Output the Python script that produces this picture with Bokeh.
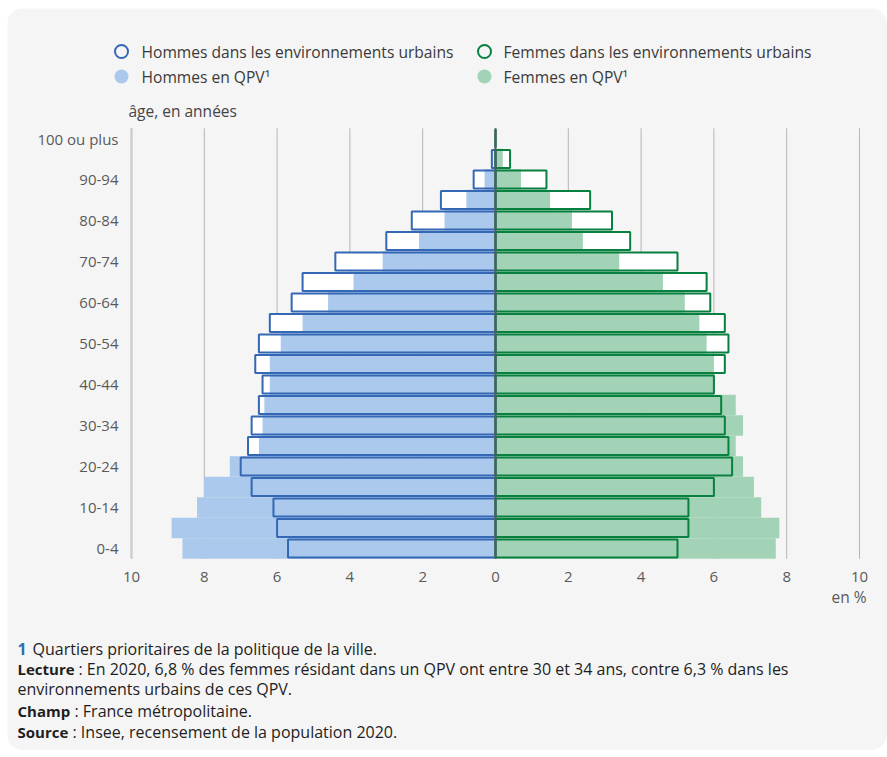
from bokeh.plotting import figure
from bokeh.models import ColumnDataSource, Range1d
from bokeh.core.properties import value
from bokeh.embed import file_html
from bokeh.resources import INLINE

# ---------------- data ----------------
ages = ["0-4", "5-9", "10-14", "15-19", "20-24", "25-29", "30-34", "35-39", "40-44",
        "45-49", "50-54", "55-59", "60-64", "65-69", "70-74", "75-79", "80-84",
        "85-89", "90-94", "95-99", "100 ou plus"]
hommes_qpv = [8.6, 8.9, 8.2, 8.0, 7.3, 6.5, 6.4, 6.35, 6.2, 6.2, 5.9, 5.3, 4.6, 3.9,
              3.1, 2.1, 1.4, 0.8, 0.3, 0.05, 0.0]
hommes_urb = [5.7, 6.0, 6.1, 6.7, 7.0, 6.8, 6.7, 6.5, 6.4, 6.6, 6.5, 6.2, 5.6, 5.3,
              4.4, 3.0, 2.3, 1.5, 0.6, 0.1, 0.0]
femmes_qpv = [7.7, 7.8, 7.3, 7.1, 6.8, 6.6, 6.8, 6.6, 6.0, 6.0, 5.8, 5.6, 5.2, 4.6,
              3.4, 2.4, 2.1, 1.5, 0.7, 0.2, 0.0]
femmes_urb = [5.0, 5.3, 5.3, 6.0, 6.5, 6.4, 6.3, 6.2, 6.0, 6.3, 6.4, 6.3, 5.9, 5.8,
              5.0, 3.7, 3.2, 2.6, 1.4, 0.4, 0.0]
x_ticks = [-10, -8, -6, -4, -2, 0, 2, 4, 6, 8, 10]
x_tick_labels = ["10", "8", "6", "4", "2", "0", "2", "4", "6", "8", "10"]
y_label_rows = [0, 2, 4, 6, 8, 10, 12, 14, 16, 18, 20]

legend_labels = ["Hommes dans les environnements urbains", "Hommes en QPV¹",
                 "Femmes dans les environnements urbains", "Femmes en QPV¹"]

# ---------------- styles / layout ----------------
BLUE = "#3467b4"
BLUE_FILL = "#aac9ec"
GREEN = "#08803f"
GREEN_FILL = "#a3d3b6"
BG = "#f5f5f5"
FONT = "Open Sans"
TICK_COLOR = "#5a5a5a"
TEXT = "#1e1e1e"
W, H = 880, 742
X0_PX, X1_PX = 124, 852          # canvas px of -10 and +10
TOP_PX, BOT_PX = 119.8, 550.3    # canvas px of the plot area top / bottom
NROWS = len(ages)

sx = (X1_PX - X0_PX) / 20.0
pitch = (BOT_PX - TOP_PX) / NROWS
x_range = Range1d(-10 - X0_PX / sx, 10 + (W - X1_PX) / sx)
y_range = Range1d(-0.5 - (H - BOT_PX) / pitch, NROWS - 0.5 + TOP_PX / pitch)

p = figure(width=W, height=H, x_range=x_range, y_range=y_range,
           output_backend="svg", toolbar_location=None, min_border=0,
           x_axis_type=None, y_axis_type=None, margin=(8, 0, 0, 7),
           styles={"border-radius": "16px", "overflow": "hidden"})
p.extra_x_ranges = {"px": Range1d(0, W)}
p.extra_y_ranges = {"px": Range1d(H, 0)}
p.background_fill_color = BG
p.border_fill_color = BG
p.outline_line_color = None
p.grid.visible = False

rows = list(range(NROWS))
src = ColumnDataSource(dict(
    y=rows,
    hq=[-v for v in hommes_qpv],
    hu=[-v for v in hommes_urb],
    fq=femmes_qpv,
    fu=femmes_urb,
))

# grid lines and left axis line
p.segment(x0=x_ticks, x1=x_ticks, y0=-0.5, y1=NROWS - 0.5, line_color="#b5b5b5", line_width=1)
p.segment(x0=[x_ticks[0]], x1=[x_ticks[0]], y0=-0.5, y1=NROWS - 0.5,
          line_color="#cfcfcf", line_width=2.5)

# bars
p.hbar(y="y", left="hu", right=0, height=0.88, source=src, fill_color="white", line_color=None)
p.hbar(y="y", left=0, right="fu", height=0.88, source=src, fill_color="white", line_color=None)
p.hbar(y="y", left="hq", right=0, height=1.0, source=src, fill_color=BLUE_FILL, line_color=None)
p.hbar(y="y", left=0, right="fq", height=1.0, source=src, fill_color=GREEN_FILL, line_color=None)
p.hbar(y="y", left="hu", right=0, height=0.88, source=src, fill_color=None,
       line_color=BLUE, line_width=2)
p.hbar(y="y", left=0, right="fu", height=0.88, source=src, fill_color=None,
       line_color=GREEN, line_width=2)

# zero line
p.segment(x0=[0], x1=[0], y0=-0.5, y1=NROWS - 0.5, line_color="#595959", line_width=2)

# tick labels
p.text(x=x_ticks, y=568, text=x_tick_labels, y_range_name="px",
       text_font=value(FONT), text_font_size="15px", text_color=TICK_COLOR,
       text_align="center", text_baseline="middle")
p.text(x=111, y=y_label_rows, text=[ages[r] for r in y_label_rows], x_range_name="px",
       text_font=value(FONT), text_font_size="15px", text_color=TICK_COLOR,
       text_align="right", text_baseline="middle")


def txt(x, y, s, size="16px", color=TEXT, style="normal", align="left", baseline="middle"):
    p.text(x=[x], y=[y], text=[s], x_range_name="px", y_range_name="px",
           text_font=value(FONT), text_font_size=size, text_color=color,
           text_font_style=style, text_align=align, text_baseline=baseline)


# legend
p.scatter([114], [43], marker="circle", size=13, fill_color=None, line_color=BLUE,
          line_width=2, x_range_name="px", y_range_name="px")
p.scatter([114], [68], marker="circle", size=14, fill_color=BLUE_FILL, line_color=None,
          x_range_name="px", y_range_name="px")
p.scatter([477], [43], marker="circle", size=13, fill_color=None, line_color=GREEN,
          line_width=2, x_range_name="px", y_range_name="px")
p.scatter([477], [68], marker="circle", size=14, fill_color=GREEN_FILL, line_color=None,
          x_range_name="px", y_range_name="px")
txt(134, 43, legend_labels[0], size="15.6px", color="#3a3a3a")
txt(134, 68, legend_labels[1], size="15.6px", color="#3a3a3a")
txt(496, 43, legend_labels[2], size="15.6px", color="#3a3a3a")
txt(496, 68, legend_labels[3], size="15.6px", color="#3a3a3a")
txt(121, 102, "âge, en années", size="15.5px", color="#444444")
txt(859, 588, "en %", size="15.5px", color=TICK_COLOR, align="right")

# footnotes
txt(10, 640, "1", color="#2f6db5", style="bold")
txt(25, 640, "Quartiers prioritaires de la politique de la ville.")
txt(10, 660, "Lecture", style="bold", size="15px")
txt(71, 660, ": En 2020, 6,8 % des femmes résidant dans un QPV ont entre 30 et 34 ans, contre 6,3 % dans les")
txt(10, 680, "environnements urbains de ces QPV.")
txt(10, 702, "Champ", style="bold", size="15px")
txt(67, 702, ": France métropolitaine.")
txt(10, 723, "Source", style="bold", size="15px")
txt(65, 723, ": Insee, recensement de la population 2020.")

open("out.html", "w").write(file_html(p, INLINE))
